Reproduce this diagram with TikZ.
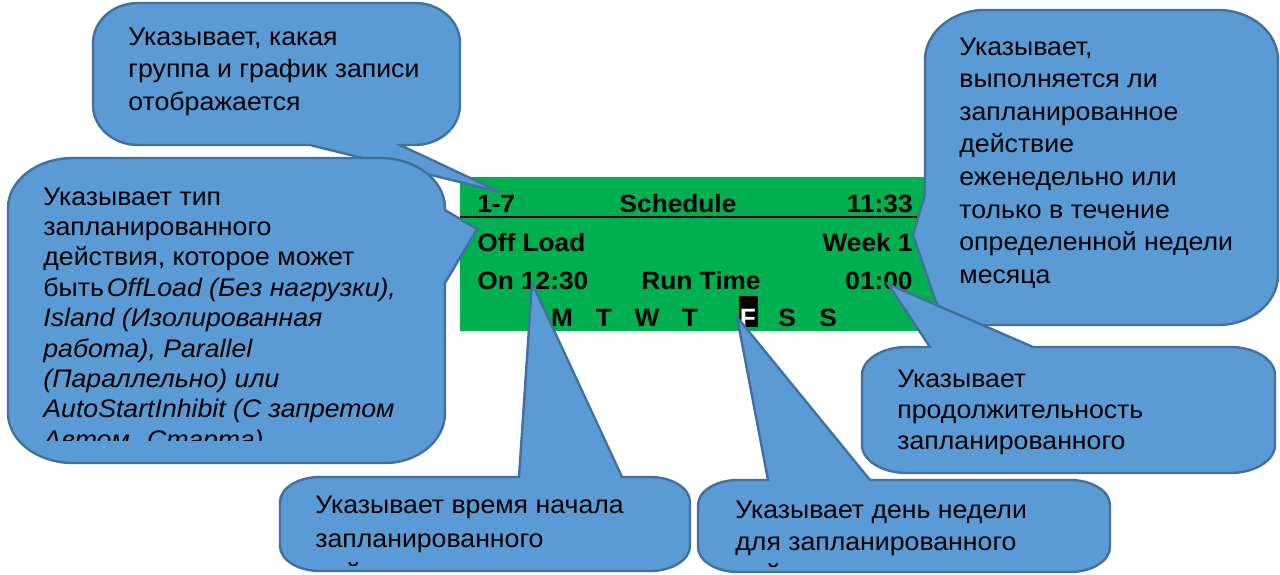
\documentclass[tikz,border=0pt]{standalone}
\usepackage{fontspec}
\setmainfont{Liberation Sans}[FakeStretch=1.05]
\usetikzlibrary{calc}
\definecolor{cfill}{RGB}{91,155,213}
\definecolor{cline}{RGB}{65,113,156}
\definecolor{dgreen}{RGB}{0,176,80}
\newcommand\crn[3]{.. controls ($(#1)!0.552!(#2)$) and ($(#3)!0.552!(#2)$) .. (#3)}
\newcommand\ctext[2]{\parbox[t]{340pt}{\fontsize{12.7pt}{#1}\selectfont #2}}
\begin{document}
\begin{tikzpicture}[x=0.5pt,y=-0.5pt,
  callout/.style={fill=cfill,draw=cline,line width=1.2pt},
  ctxt/.style={anchor=base west,inner sep=0pt,text=black},
  disp/.style={font=\fontsize{12.5pt}{14pt}\selectfont\bfseries,inner sep=0pt,text=black}]
\useasboundingbox (0,0) rectangle (1280,574);

% ---- display ----
\fill[dgreen] (460,177) rectangle (935,331);
\draw[black,line width=1pt] (460,217) -- (930,217);
\node[disp,anchor=base west] (d17) at (477,212) {1-7};
\node[disp,anchor=base] (dsched) at (678,212) {Schedule};
\node[disp,anchor=base east] (dclock) at (913,212) {11:33};
\node[disp,anchor=base west] (dload) at (477,251) {Off Load};
\node[disp,anchor=base east] (dweek) at (913,251) {Week 1};
\node[disp,anchor=base west] (don) at (477,289) {On 12:30};
\node[disp,anchor=base west] (drun) at (641,289) {Run Time};
\node[disp,anchor=base east] (ddur) at (913,289) {01:00};
\node[disp,anchor=base] (dm) at (562,326) {M};
\node[disp,anchor=base] (dt1) at (604,326) {T};
\node[disp,anchor=base] (dw) at (647,326) {W};
\node[disp,anchor=base] (dt2) at (690,326) {T};
\node[disp,anchor=base,fill=black,text=white,minimum width=9.5pt,text height=15pt,text depth=0.5pt] (df) at (748,326) {F};
\node[disp,anchor=base] (ds1) at (787,326) {S};
\node[disp,anchor=base] (ds2) at (828,326) {S};

% ---- top callout ----
\path[callout] (138,3) -- (415,3) \crn{415,3}{460,3}{460,43} -- (460,105)
  \crn{460,105}{460,145}{415,145} -- (400,145) -- (500,192) -- (310,145) -- (138,145)
  \crn{138,145}{93,145}{93,105} -- (93,43) \crn{93,43}{93,3}{138,3} -- cycle;
\node[ctxt] (ttop) at (128,45) {\ctext{16.25pt}{Указывает, какая\\группа и график записи\\отображается}};

% ---- left callout ----
\path[callout] (73,158) -- (380,158) \crn{380,158}{445,158}{445,208} -- (445,210)
  -- (477,229) -- (445,283) -- (445,413) \crn{445,413}{445,463}{385,463} -- (73,463)
  \crn{73,463}{8,463}{8,413} -- (8,208) \crn{8,208}{8,158}{73,158} -- cycle;
\begin{scope}
\clip (8,158) rectangle (445,440);
\node[ctxt] (tleft) at (43,205) {\ctext{15.2pt}{Указывает тип\\запланированного\\действия, которое может\\быть\hspace{1.5pt}\textit{OffLoad (Без нагрузки),}\\\textit{Island (Изолированная}\\\textit{работа), Parallel}\\\textit{(Параллельно) или}\\\textit{AutoStartInhibit (С запретом}\\\textit{Автом. Старта)}}};
\end{scope}

% ---- right callout ----
\path[callout] (985,10) -- (1218,10) \crn{1218,10}{1278,10}{1278,60} -- (1278,275)
  \crn{1278,275}{1278,325}{1218,325} -- (985,325)
  .. controls (960,325) and (945,316) .. (936,302) -- (913,235) -- (925,195)
  -- (925,60) \crn{925,60}{925,10}{985,10} -- cycle;
\node[ctxt] (tright) at (959,55) {\ctext{16.3pt}{Указывает,\\выполняется ли\\запланированное\\действие\\еженедельно или\\только в течение\\определенной недели\\месяца}};

% ---- bottom-right callout ----
\path[callout] (907,347) -- (930,347) -- (888,284) -- (1033,347) -- (1230,347)
  \crn{1230,347}{1275,347}{1275,375} -- (1275,445) \crn{1275,445}{1275,473}{1230,473}
  -- (907,473) \crn{907,473}{862,473}{862,445} -- (862,375) \crn{862,375}{862,347}{907,347} -- cycle;
\node[ctxt] (tdur) at (897,387) {\ctext{15.5pt}{Указывает\\продолжительность\\запланированного}};

% ---- bottom-middle callout ----
\path[callout] (320,477) -- (519,477) -- (532,283) -- (622,477) -- (650,477)
  \crn{650,477}{690,477}{690,502} -- (690,546) \crn{690,546}{690,571}{650,571}
  -- (320,571) \crn{320,571}{280,571}{280,546} -- (280,502) \crn{280,502}{280,477}{320,477} -- cycle;
\begin{scope}
\clip (280,477) rectangle (690,566);
\node[ctxt] (tstart) at (315,513) {\ctext{17pt}{Указывает время начала\\запланированного\\действия}};
\end{scope}

% ---- bottom day callout ----
\path[callout] (738,480) -- (768,480) -- (737,317) -- (870,480) -- (1070,480)
  \crn{1070,480}{1110,480}{1110,505} -- (1110,547) \crn{1110,547}{1110,572}{1070,572}
  -- (738,572) \crn{738,572}{698,572}{698,547} -- (698,505) \crn{698,505}{698,480}{738,480} -- cycle;
\begin{scope}
\clip (698,480) rectangle (1110,567);
\node[ctxt] (tday) at (735,518) {\ctext{16pt}{Указывает день недели\\для запланированного\\действия}};
\end{scope}
\end{tikzpicture}
\end{document}
